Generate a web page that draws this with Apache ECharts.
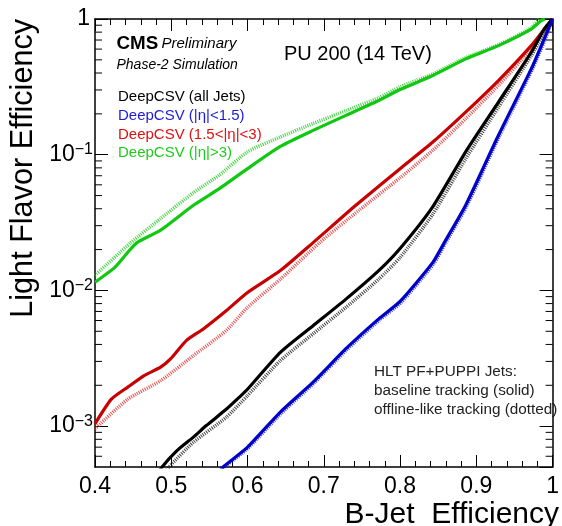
<!DOCTYPE html>
<html>
<head>
<meta charset="utf-8">
<script src="https://cdn.jsdelivr.net/npm/echarts@6/dist/echarts.min.js"></script>
<style>
  html, body { margin: 0; padding: 0; background: #fff; }
  #chart { width: 562px; height: 526px; }
</style>
</head>
<body>
<div id="chart"></div>
<script>
// values (x = b-jet eff, y = light flavour eff)
const xAllSolid = [0.480, 0.488, 0.5075, 0.529, 0.546, 0.572, 0.589, 0.600, 0.643, 0.686, 0.729, 0.772, 0.800, 0.843, 0.886, 0.929, 0.972, 0.989, 1.000];
const yAllSolid = [0.00042, 0.0005, 0.00066, 0.00083, 0.00101, 0.00133, 0.00163, 0.00187, 0.0035, 0.0055, 0.00863, 0.0140, 0.0204, 0.0415, 0.105, 0.244, 0.569, 0.843, 1.0];
const xAllDotted = [0.490, 0.497, 0.529, 0.572, 0.600, 0.643, 0.686, 0.729, 0.772, 0.800, 0.843, 0.886, 0.929, 0.972, 1.000];
const yAllDotted = [0.00043, 0.0005, 0.00076, 0.00116, 0.00168, 0.00304, 0.00479, 0.0075, 0.0121, 0.0175, 0.0365, 0.0933, 0.224, 0.537, 1.0];

const xBarrelSolid = [0.565, 0.568, 0.600, 0.643, 0.686, 0.729, 0.772, 0.800, 0.843, 0.858, 0.886, 0.929, 0.972, 0.989, 1.000];
const yBarrelSolid = [0.00048, 0.0005, 0.0007, 0.00127, 0.00211, 0.00372, 0.00617, 0.0083, 0.0161, 0.0225, 0.0424, 0.139, 0.429, 0.713, 1.0];
const xBarrelDotted = [0.566, 0.570, 0.601, 0.644, 0.687, 0.730, 0.773, 0.801, 0.844, 0.859, 0.887, 0.930, 0.973, 0.990, 1.000];
const yBarrelDotted = [0.00047, 0.0005, 0.00069, 0.00124, 0.00207, 0.00365, 0.00605, 0.0081, 0.0157, 0.0220, 0.0414, 0.136, 0.421, 0.703, 1.0];

const xEndcapSolid = [0.400, 0.4215, 0.443, 0.4645, 0.486, 0.499, 0.520, 0.542, 0.572, 0.600, 0.643, 0.686, 0.742, 0.800, 0.843, 0.886, 0.929, 0.972, 0.996, 1.000];
const yEndcapSolid = [0.00104, 0.00158, 0.00194, 0.00236, 0.00272, 0.00313, 0.00429, 0.00520, 0.00708, 0.00966, 0.0140, 0.0225, 0.0424, 0.0789, 0.124, 0.206, 0.352, 0.637, 0.944, 1.0];
const xEndcapDotted = [0.400, 0.443, 0.486, 0.529, 0.572, 0.600, 0.643, 0.6946, 0.746, 0.800, 0.843, 0.886, 0.929, 0.972, 1.000];
const yEndcapDotted = [0.000955, 0.00158, 0.00216, 0.00331, 0.00506, 0.0075, 0.0121, 0.0225, 0.0389, 0.0676, 0.108, 0.184, 0.324, 0.603, 1.0];

const xForwardSolid = [0.400, 0.426, 0.443, 0.455, 0.486, 0.529, 0.563, 0.600, 0.643, 0.686, 0.729, 0.772, 0.800, 0.843, 0.886, 0.929, 0.972, 0.985, 0.990];
const yForwardSolid = [0.0115, 0.0148, 0.0191, 0.0225, 0.0278, 0.0424, 0.0562, 0.0789, 0.115, 0.151, 0.195, 0.251, 0.302, 0.383, 0.508, 0.637, 0.843, 0.973, 1.0];
const xForwardDotted = [0.400, 0.447, 0.486, 0.529, 0.563, 0.600, 0.643, 0.686, 0.729, 0.772, 0.800, 0.843, 0.886, 0.929, 0.972, 0.982];
const yForwardDotted = [0.0129, 0.0225, 0.0339, 0.0525, 0.0708, 0.105, 0.135, 0.170, 0.211, 0.263, 0.316, 0.394, 0.519, 0.646, 0.861, 1.0];

const legendLabels = ['DeepCSV (all Jets)', 'DeepCSV (|η|<1.5)', 'DeepCSV (1.5<|η|<3)', 'DeepCSV (|η|>3)'];
const legendColors = ['#000000', '#1c1cd6', '#dd1111', '#1ccc1c'];
const noteLines = ['HLT PF+PUPPI Jets:', 'baseline tracking (solid)', 'offline-like tracking (dotted)'];

const yMinorTicks = [0.0006, 0.0007, 0.0008, 0.0009,
  0.002, 0.003, 0.004, 0.005, 0.006, 0.007, 0.008, 0.009,
  0.02, 0.03, 0.04, 0.05, 0.06, 0.07, 0.08, 0.09,
  0.2, 0.3, 0.4, 0.5, 0.6, 0.7, 0.8, 0.9];

const FONT = "'Liberation Sans', Arial, Helvetica, sans-serif";
const zip = (xs, ys) => xs.map((x, i) => [x, ys[i]]);

function curve(name, xs, ys, color, dotted) {
  return {
    name: name,
    type: 'line',
    data: zip(xs, ys),
    showSymbol: false,
    smooth: 0.2,
    clip: true,
    z: dotted ? 2 : 3,
    lineStyle: {
      color: color,
      width: dotted ? 3.5 : 3.2,
      type: dotted ? [1, 1.2] : 'solid',
      opacity: dotted ? 0.85 : 1,
      join: 'round'
    },
    emphasis: { disabled: true }
  };
}

const chart = echarts.init(document.getElementById('chart'));

const supLabel = v => {
  const e = Math.round(Math.log10(v));
  if (Math.abs(Math.log10(v) - e) > 0.01) return '';
  if (e === 0) return '{one|1}';
  return '{b|10}{s|−' + (-e) + '}';
};

const texts = [];
texts.push({ type: 'text', x: 116.5, y: 44, style: { text: 'CMS', font: 'bold 18.8px ' + FONT, fill: '#000', textVerticalAlign: 'middle' } });
texts.push({ type: 'text', x: 161.5, y: 44, style: { text: 'Preliminary', font: 'italic 15px ' + FONT, fill: '#000', textVerticalAlign: 'middle' } });
texts.push({ type: 'text', x: 116.5, y: 65, style: { text: 'Phase-2 Simulation', font: 'italic 14px ' + FONT, fill: '#000', textVerticalAlign: 'middle' } });
texts.push({ type: 'text', x: 284, y: 54.5, style: { text: 'PU 200 (14 TeV)', font: '20px ' + FONT, fill: '#000', textVerticalAlign: 'middle' } });
legendLabels.forEach((t, i) => {
  texts.push({ type: 'text', x: 118, y: 97 + i * 18.7, style: { text: t, font: '15px ' + FONT, fill: legendColors[i], textVerticalAlign: 'middle' } });
});
noteLines.forEach((t, i) => {
  texts.push({ type: 'text', x: 374, y: 371.5 + i * 19.2, style: { text: t, font: '15.3px ' + FONT, fill: '#222', textVerticalAlign: 'middle' } });
});
texts.push({ type: 'text', x: 24, y: 19, rotation: Math.PI / 2, style: { text: 'Light Flavor Efficiency', font: '30.6px ' + FONT, fill: '#000', textAlign: 'right', textVerticalAlign: 'middle' } });
texts.push({ type: 'text', x: 559, y: 515, style: { text: 'B-Jet  Efficiency', font: '30px ' + FONT, fill: '#000', textAlign: 'right', textVerticalAlign: 'middle' } });

const xAxisBase = {
  type: 'value', min: 0.4, max: 1, interval: 0.1,
  axisLine: { show: true, onZero: false, lineStyle: { color: '#000', width: 1.5 } },
  axisTick: { show: true, inside: true, length: 12, lineStyle: { color: '#000', width: 1 } },
  minorTick: { show: true, splitNumber: 5, length: 6, lineStyle: { color: '#000', width: 1 } },
  splitLine: { show: false }
};
const yAxisBase = {
  type: 'log', logBase: 10, min: 0.0005, max: 1,
  axisLine: { show: true, onZero: false, lineStyle: { color: '#000', width: 1.5 } },
  axisTick: { show: true, inside: true, length: 13, lineStyle: { color: '#000', width: 1 } },
  splitLine: { show: false }
};

chart.setOption({
  animation: false,
  backgroundColor: '#fff',
  grid: { left: 95, right: 2, top: 19, bottom: 59, containLabel: false },
  xAxis: [
    Object.assign({}, xAxisBase, {
      position: 'bottom',
      axisLabel: { margin: 8, fontSize: 23, fontFamily: FONT, color: '#000' }
    }),
    Object.assign({}, xAxisBase, { position: 'top', axisLabel: { show: false } })
  ],
  yAxis: [
    Object.assign({}, yAxisBase, {
      position: 'left',
      axisLabel: {
        margin: 2, formatter: supLabel, showMinLabel: false,
        rich: {
          b: { fontSize: 23, fontFamily: FONT, color: '#000', lineHeight: 26 },
          s: { fontSize: 16, fontFamily: FONT, color: '#000', verticalAlign: 'top', lineHeight: 18 },
          one: { fontSize: 23, fontFamily: FONT, color: '#000', padding: [0, 3, 0, 0] }
        }
      }
    }),
    Object.assign({}, yAxisBase, { position: 'right', axisLabel: { show: false } })
  ],
  graphic: texts,
  series: [
    curve('fwd dotted', xForwardDotted, yForwardDotted, '#22cc22', true),
    curve('end dotted', xEndcapDotted, yEndcapDotted, '#e23030', true),
    curve('all dotted', xAllDotted, yAllDotted, '#222222', true),
    curve('bar dotted', xBarrelDotted, yBarrelDotted, '#2020d0', true),
    curve('fwd solid', xForwardSolid, yForwardSolid, '#11c811', false),
    curve('end solid', xEndcapSolid, yEndcapSolid, '#c80000', false),
    curve('all solid', xAllSolid, yAllSolid, '#000000', false),
    curve('bar solid', xBarrelSolid, yBarrelSolid, '#0000c8', false),
    {
      // ROOT style minor ticks on the log axis, left and right frame
      type: 'custom',
      silent: true,
      clip: false,
      data: yMinorTicks.map(v => [0.4, v]),
      encode: { x: 0, y: 1 },
      renderItem: function (params, api) {
        const cs = params.coordSys;
        const p = api.coord([api.value(0), api.value(1)]);
        const st = { stroke: '#000', lineWidth: 1 };
        return {
          type: 'group',
          children: [
            { type: 'line', shape: { x1: cs.x, y1: p[1], x2: cs.x + 7, y2: p[1] }, style: st },
            { type: 'line', shape: { x1: cs.x + cs.width - 7, y1: p[1], x2: cs.x + cs.width, y2: p[1] }, style: st }
          ]
        };
      }
    }
  ]
});
</script>
</body>
</html>
